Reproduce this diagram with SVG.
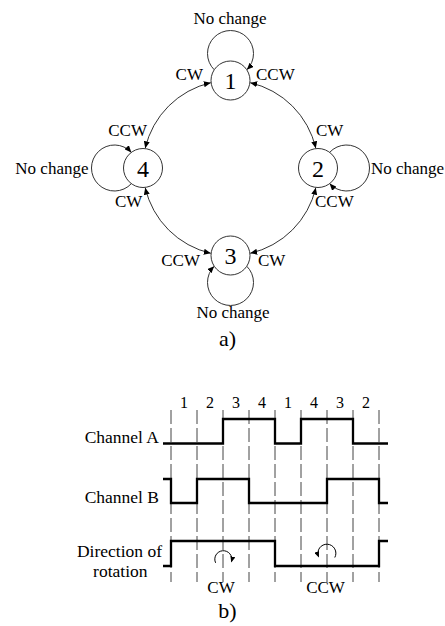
<svg xmlns="http://www.w3.org/2000/svg" width="445" height="626" viewBox="0 0 445 626" font-family="'Liberation Serif', 'DejaVu Serif', serif">
<style>
text{font-family:'Liberation Serif','DejaVu Serif',serif;fill:#000}
.lbl{font-size:17px}
.num{font-size:24px;text-anchor:middle}
.cap{font-size:22px;text-anchor:middle}
.side{font-size:17.5px;text-anchor:end}
.tick{font-size:16px;text-anchor:middle}
.node{fill:#fff;stroke:#333;stroke-width:1}
.edge{fill:none;stroke:#333;stroke-width:1;marker-start:url(#ah);marker-end:url(#ah)}
.loop{fill:none;stroke:#333;stroke-width:1;marker-end:url(#ah)}
.wave{fill:none;stroke:#000;stroke-width:2.3;stroke-linejoin:miter}
.grid{stroke:#444;stroke-width:1;stroke-dasharray:14 4}
.rot{fill:none;stroke:#000;stroke-width:1;marker-end:url(#sa)}
</style>
<defs>
<marker id="ah" viewBox="0 0 7 6" refX="7" refY="3" markerWidth="7" markerHeight="6" markerUnits="userSpaceOnUse" orient="auto-start-reverse">
<path d="M0,0 L7,3 L0,6 z" fill="#000"/>
</marker>
<marker id="sa" viewBox="0 0 6 5" refX="5" refY="2.5" markerWidth="6" markerHeight="5" markerUnits="userSpaceOnUse" orient="auto">
<path d="M0,0 L6,2.5 L0,5 z" fill="#000"/>
</marker>
</defs>

<g id="connectors">
<path class="edge" d="M210.8 82.7 A87.5 87.5 0 0 0 145.2 148.3"/>
<path class="edge" d="M250.2 82.7 A87.5 87.5 0 0 1 315.8 148.3"/>
<path class="edge" d="M315.8 187.7 A87.5 87.5 0 0 1 250.2 253.3"/>
<path class="edge" d="M145.2 187.7 A87.5 87.5 0 0 0 210.8 253.3"/>
<path class="loop" d="M214.2 69.75 A23 23 0 1 1 246.8 69.75"/>
<path class="loop" d="M329.6 152.4 A23 23 0 1 1 329.6 183.6"/>
<path class="loop" d="M246.8 266.25 A23 23 0 1 1 214.2 266.25"/>
<path class="loop" d="M131.4 183.6 A23 23 0 1 1 131.4 152.4"/>
</g>

<g id="node-1"><circle class="node" cx="230.5" cy="80.5" r="19.5"/><text class="num" x="230.5" y="89">1</text></g>
<g id="node-2"><circle class="node" cx="318" cy="168" r="19.5"/><text class="num" x="318" y="176.5">2</text></g>
<g id="node-3"><circle class="node" cx="230.5" cy="255.5" r="19.5"/><text class="num" x="230.5" y="264">3</text></g>
<g id="node-4"><circle class="node" cx="143" cy="168" r="19.5"/><text class="num" x="143" y="176.5">4</text></g>

<g id="edge-labels" class="lbl">
<text x="230" y="24" text-anchor="middle">No change</text>
<text x="203" y="80" text-anchor="end">CW</text>
<text x="256" y="80">CCW</text>
<text x="147" y="136" text-anchor="end">CCW</text>
<text x="88.5" y="174" text-anchor="end">No change</text>
<text x="115" y="207">CW</text>
<text x="316" y="136">CW</text>
<text x="371" y="174">No change</text>
<text x="315" y="207">CCW</text>
<text x="200" y="266" text-anchor="end">CCW</text>
<text x="258" y="266">CW</text>
<text x="233" y="318" text-anchor="middle">No change</text>
</g>
<text class="cap" x="227.5" y="346">a)</text>

<g id="timing">
<g id="grid">
<line class="grid" x1="171" y1="410" x2="171" y2="582"/>
<line class="grid" x1="197" y1="410" x2="197" y2="582"/>
<line class="grid" x1="223" y1="410" x2="223" y2="582"/>
<line class="grid" x1="249" y1="410" x2="249" y2="582"/>
<line class="grid" x1="275" y1="410" x2="275" y2="582"/>
<line class="grid" x1="301" y1="410" x2="301" y2="582"/>
<line class="grid" x1="327" y1="410" x2="327" y2="582"/>
<line class="grid" x1="353" y1="410" x2="353" y2="582"/>
<line class="grid" x1="379" y1="410" x2="379" y2="582"/>
</g>
<g id="steps">
<text class="tick" x="184" y="408">1</text>
<text class="tick" x="210" y="408">2</text>
<text class="tick" x="236" y="408">3</text>
<text class="tick" x="262" y="408">4</text>
<text class="tick" x="288" y="408">1</text>
<text class="tick" x="314" y="408">4</text>
<text class="tick" x="340" y="408">3</text>
<text class="tick" x="366" y="408">2</text>
</g>
<path class="wave" d="M163 443.5 H223 V419 H275 V443.5 H301 V419 H353 V443.5 H388"/>
<path class="wave" d="M163 479 H171 V503 H197 V479 H249 V503 H327 V479 H379 V503 H388"/>
<path class="wave" d="M163 566 H171 V541 H275 V566 H379 V541 H388"/>
<text class="side" x="159" y="443">Channel A</text>
<text class="side" x="159" y="503">Channel B</text>
<text class="side" x="162" y="557">Direction of</text>
<text class="side" x="147.5" y="577">rotation</text>
<path class="rot" d="M215.6 562.8 A8.5 8.5 0 1 1 231.5 561.5"/>
<path class="rot" d="M334.8 557.5 A9 9 0 1 0 318.5 556.5"/>
<text class="lbl" x="221" y="593" text-anchor="middle">CW</text>
<text class="lbl" x="325.5" y="593" text-anchor="middle">CCW</text>
<text class="cap" x="227.5" y="618">b)</text>
</g>
</svg>
